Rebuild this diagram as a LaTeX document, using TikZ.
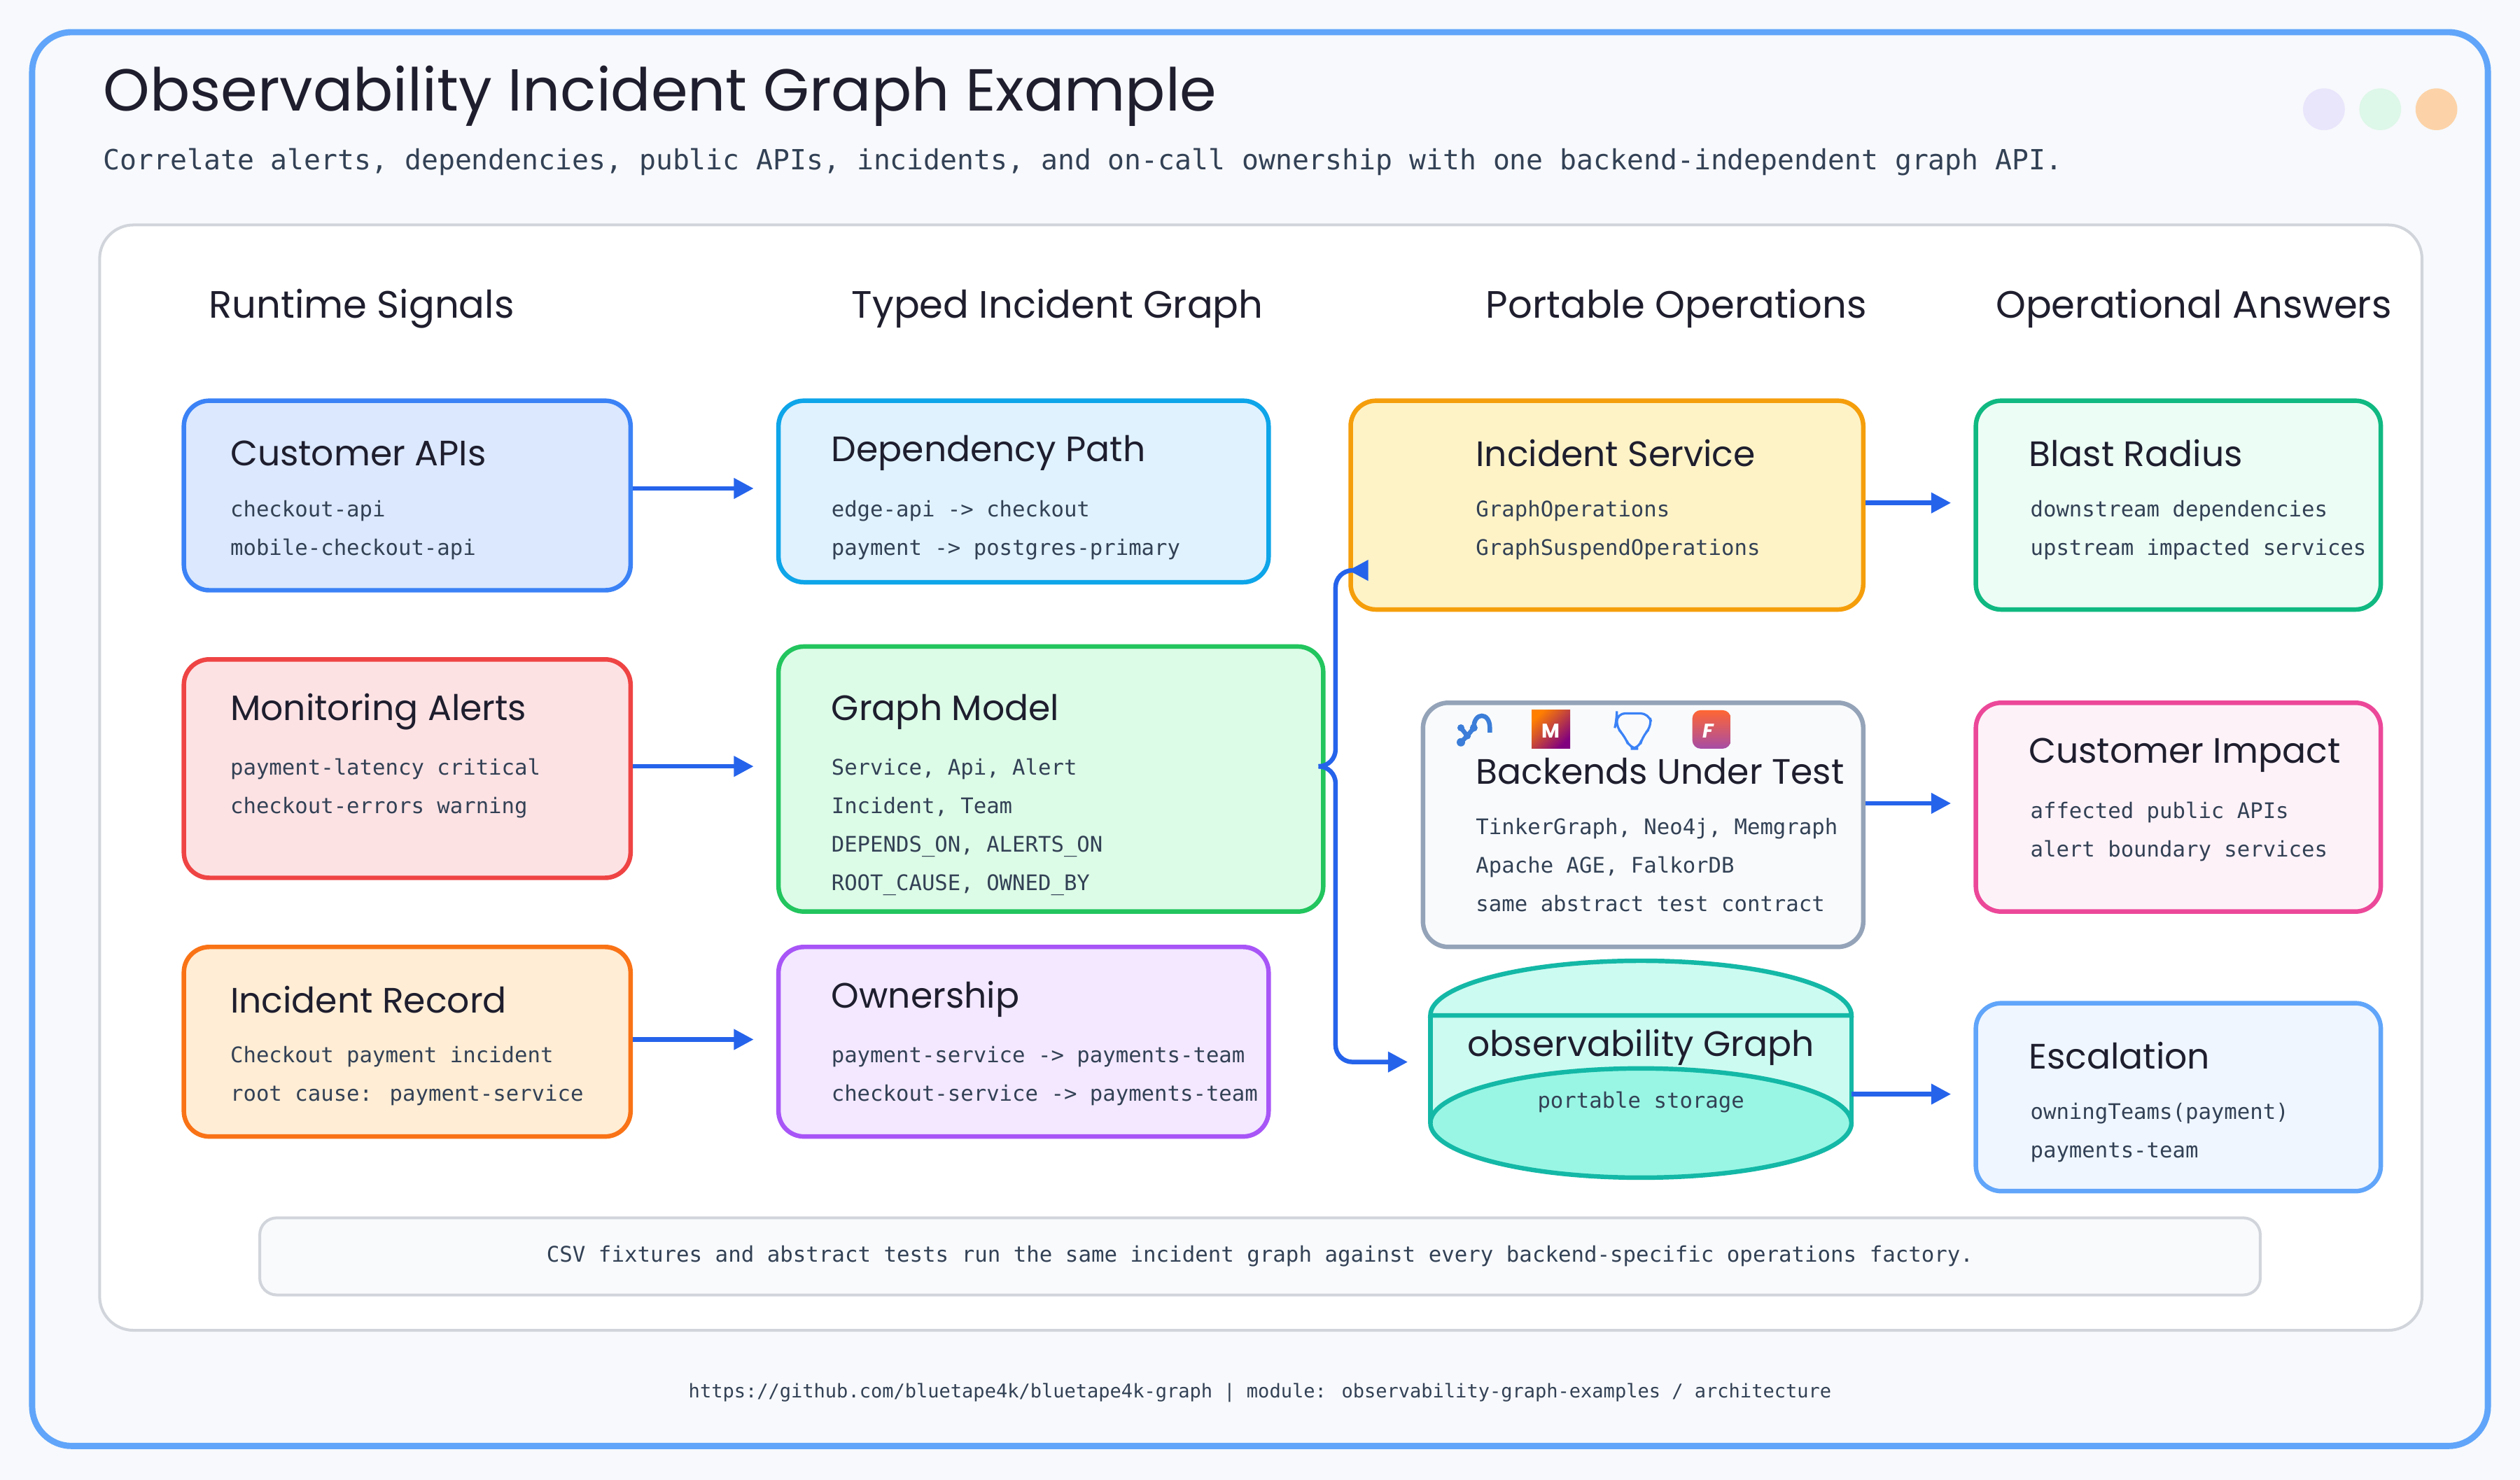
\documentclass[tikz,border=0pt]{standalone}
\usepackage{fontspec}
\setmainfont{Poppins}
\newfontfamily\monofont{DejaVu Sans Mono}
\usetikzlibrary{arrows.meta,positioning}

\definecolor{frameblue}{HTML}{60A5FA}
\definecolor{pagebg}{HTML}{F7F9FC}
\definecolor{ink}{HTML}{1E1E2E}
\definecolor{subink}{HTML}{334155}
\definecolor{flow}{HTML}{2563EB}
\definecolor{panelline}{HTML}{D1D5DB}
\definecolor{dotA}{HTML}{E9E5FB}
\definecolor{dotB}{HTML}{DDF7E8}
\definecolor{dotC}{HTML}{FCD3A8}
\definecolor{apiFill}{HTML}{DBE8FD}   \definecolor{apiLine}{HTML}{3B82F6}
\definecolor{alertFill}{HTML}{FDE2E4} \definecolor{alertLine}{HTML}{EF4444}
\definecolor{recFill}{HTML}{FFEDD5}   \definecolor{recLine}{HTML}{F97316}
\definecolor{depFill}{HTML}{E0F2FE}   \definecolor{depLine}{HTML}{0EA5E9}
\definecolor{modelFill}{HTML}{DCFCE7} \definecolor{modelLine}{HTML}{22C55E}
\definecolor{ownFill}{HTML}{F3E8FF}   \definecolor{ownLine}{HTML}{A855F7}
\definecolor{svcFill}{HTML}{FEF3C7}   \definecolor{svcLine}{HTML}{F59E0B}
\definecolor{backFill}{HTML}{F8FAFC}  \definecolor{backLine}{HTML}{94A3B8}
\definecolor{cylWall}{HTML}{CCFBF1}   \definecolor{cylBase}{HTML}{99F6E4}
\definecolor{cylLine}{HTML}{14B8A6}
\definecolor{blastFill}{HTML}{ECFDF5} \definecolor{blastLine}{HTML}{10B981}
\definecolor{impFill}{HTML}{FDF2F8}   \definecolor{impLine}{HTML}{EC4899}
\definecolor{escFill}{HTML}{EFF6FF}   \definecolor{escLine}{HTML}{60A5FA}
\definecolor{iconBlue}{HTML}{3B7DD8}

\tikzset{
  box/.style={draw, rounded corners=9pt, line width=1.6pt, anchor=north west, inner sep=0pt},
  head/.style={anchor=west, inner sep=0pt, font=\fontsize{12.5}{15}\selectfont, text=ink},
  lines/.style={anchor=north west, align=left, font=\monofont\fontsize{7.6}{13.6}\selectfont, text=subink, inner sep=0pt},
  colhead/.style={font=\fontsize{13.5}{16}\selectfont, text=ink},
  flowarrow/.style={draw=flow, line width=1.6pt, -{Triangle[length=7pt,width=7pt]}, shorten >=8pt}
}

\begin{document}
\begin{tikzpicture}[x=0.02cm,y=-0.02cm]

\useasboundingbox (0,0) rectangle (1568,921);
\fill[pagebg] (0,0) rectangle (1568,921);
\draw[frameblue, line width=2.2pt, fill=pagebg, rounded corners=14pt] (20,20) rectangle (1548,900);

% title
\node[anchor=west, inner sep=0pt, font=\fontsize{21}{24}\selectfont, text=ink] (title) at (64,60) {Observability Incident Graph Example};
\node[anchor=west, inner sep=0pt, font=\monofont\fontsize{9.85}{12}\selectfont, text=subink] (subtitle) at (64,101)
  {Correlate alerts, dependencies, public APIs, incidents, and on-call ownership with one backend-independent graph API.};
\fill[dotA] (1446,68) circle (13);
\fill[dotB] (1481,68) circle (13);
\fill[dotC] (1516,68) circle (13);

% panel
\draw[panelline, line width=1pt, fill=white, rounded corners=12pt] (62,140) rectangle (1507,828);

% column headings
\node[colhead] (c1) at (225,192) {Runtime Signals};
\node[colhead] (c2) at (658,192) {Typed Incident Graph};
\node[colhead] (c3) at (1043,192) {Portable Operations};
\node[colhead] (c4) at (1365,192) {Operational Answers};

% runtime signals
\node[box, fill=apiFill, draw=apiLine, minimum width=5.56cm, minimum height=2.36cm] (api) at (113,248) {};
\node[head] at (143,282) {Customer APIs};
\node[lines] at (143,311) {checkout-api\\mobile-checkout-api};

\node[box, fill=alertFill, draw=alertLine, minimum width=5.56cm, minimum height=2.72cm] (alerts) at (113,409) {};
\node[head] at (143,443) {Monitoring Alerts};
\node[lines] at (143,472) {payment-latency critical\\checkout-errors warning};

\node[box, fill=recFill, draw=recLine, minimum width=5.56cm, minimum height=2.36cm] (record) at (113,588) {};
\node[head] at (143,622) {Incident Record};
\node[lines] at (143,651) {Checkout payment incident\\root cause: payment-service};

% typed graph
\node[box, fill=depFill, draw=depLine, minimum width=6.1cm, minimum height=2.26cm] (dep) at (483,248) {};
\node[head] at (517,282) {Dependency Path};
\node[lines] at (517,311) {edge-api -> checkout\\payment -> postgres-primary};

\node[box, fill=modelFill, draw=modelLine, minimum width=6.78cm, minimum height=3.3cm] (model) at (483,401) {};
\node[head] at (517,443) {Graph Model};
\node[lines] at (517,472) {Service, Api, Alert\\Incident, Team\\DEPENDS\_ON, ALERTS\_ON\\ROOT\_CAUSE, OWNED\_BY};

\node[box, fill=ownFill, draw=ownLine, minimum width=6.1cm, minimum height=2.36cm] (own) at (483,588) {};
\node[head] at (517,622) {Ownership};
\node[lines] at (517,651) {payment-service -> payments-team\\checkout-service -> payments-team};

% portable operations
\node[box, fill=svcFill, draw=svcLine, minimum width=6.38cm, minimum height=2.6cm] (svc) at (839,248) {};
\node[head] at (918,282) {Incident Service};
\node[lines] at (918,311) {GraphOperations\\GraphSuspendOperations};

\node[box, fill=backFill, draw=backLine, minimum width=5.48cm, minimum height=3.04cm] (back) at (884,436) {};
\node[head] at (918,480) {Backends Under Test};
\node[lines] at (918,509) {TinkerGraph, Neo4j, Memgraph\\Apache AGE, FalkorDB\\same abstract test contract};
% backend icons
\draw[iconBlue, line width=1.6pt] (909,462) -- (913,458) -- (917,453) (909,453) -- (913,458)
  (917,453) .. controls (917,443) and (927,443) .. (927,453) -- (927,456);
\fill[iconBlue] (909,462) circle (2.6) (913,458) circle (2.2) (909,453) circle (2.2) (917,453) circle (2.4);
\shade[left color=orange, right color=violet, shading angle=45] (953,442) rectangle (977,466);
\node[text=white, font=\bfseries\fontsize{7}{8}\selectfont] (mg) at (965,455) {M};
\draw[apiLine, line width=0.8pt, rounded corners=3pt] (1006,448) -- (1006,444) -- (1026,444) -- (1028,452) -- (1022,458) -- (1020,466) -- (1014,466) -- (1011,458) -- (1005,452) -- cycle;
\shade[top color=red!50!orange!80, bottom color=violet!70, rounded corners=3pt] (1053,442) rectangle (1077,466);
\node[text=white, font=\bfseries\itshape\fontsize{7}{8}\selectfont] (fk) at (1063,455) {F};

% storage cylinder
\fill[cylWall] (890,632) rectangle (1152,699);
\fill[cylBase, draw=cylLine, line width=1.6pt] (1021,699) ellipse (131 and 34);
\draw[cylLine, line width=1.6pt] (890,632) -- (890,699) (1152,632) -- (1152,699);
\filldraw[fill=cylWall, draw=cylLine, line width=1.6pt] (890,632) arc (180:360:131 and 34) -- cycle;
\coordinate (cylW) at (890,661);
\coordinate (cylE) at (1152,681);
\node[font=\fontsize{12.5}{15}\selectfont, text=ink] (store) at (1021,652) {observability Graph};
\node[font=\monofont\fontsize{7.6}{9}\selectfont, text=subink] (storesub) at (1021,686) {portable storage};

% answers
\node[box, fill=blastFill, draw=blastLine, minimum width=5.04cm, minimum height=2.6cm] (blast) at (1228,248) {};
\node[head] at (1262,282) {Blast Radius};
\node[lines] at (1263,311) {downstream dependencies\\upstream impacted services};

\node[box, fill=impFill, draw=impLine, minimum width=5.04cm, minimum height=2.6cm] (impact) at (1228,436) {};
\node[head] at (1262,470) {Customer Impact};
\node[lines] at (1263,499) {affected public APIs\\alert boundary services};

\node[box, fill=escFill, draw=escLine, minimum width=5.04cm, minimum height=2.34cm] (esc) at (1228,623) {};
\node[head] at (1262,657) {Escalation};
\node[lines] at (1263,686) {owningTeams(payment)\\payments-team};

% connectors
\draw[flowarrow] (api.east |- 0,304) -- (dep.west |- 0,304);
\draw[flowarrow] (alerts.east |- 0,477) -- (model.west |- 0,477);
\draw[flowarrow] (record.east |- 0,647) -- (own.west |- 0,647);
\draw[flowarrow, shorten >=0pt, rounded corners=6pt] (model.east |- 0,477) -- (831,477) -- (831,355) -- (svc.west |- 0,355);
\draw[flowarrow, rounded corners=6pt] (model.east |- 0,477) -- (831,477) -- (831,661) -- (cylW);
\draw[flowarrow] (svc.east |- 0,313) -- (blast.west |- 0,313);
\draw[flowarrow] (back.east |- 0,500) -- (impact.west |- 0,500);
\draw[flowarrow] (cylE) -- (esc.west |- 0,681);

% footer
\node[draw=panelline, fill=backFill, rounded corners=6pt, line width=1pt, minimum width=24.9cm, minimum height=0.96cm,
  font=\monofont\fontsize{7.63}{10}\selectfont, text=subink] (note) at (784,782)
  {CSV fixtures and abstract tests run the same incident graph against every backend-specific operations factory.};
\node[font=\monofont\fontsize{6.7}{9}\selectfont, text=subink] (url) at (784,867)
  {https://github.com/bluetape4k/bluetape4k-graph | module: observability-graph-examples / architecture};

\end{tikzpicture}
\end{document}
